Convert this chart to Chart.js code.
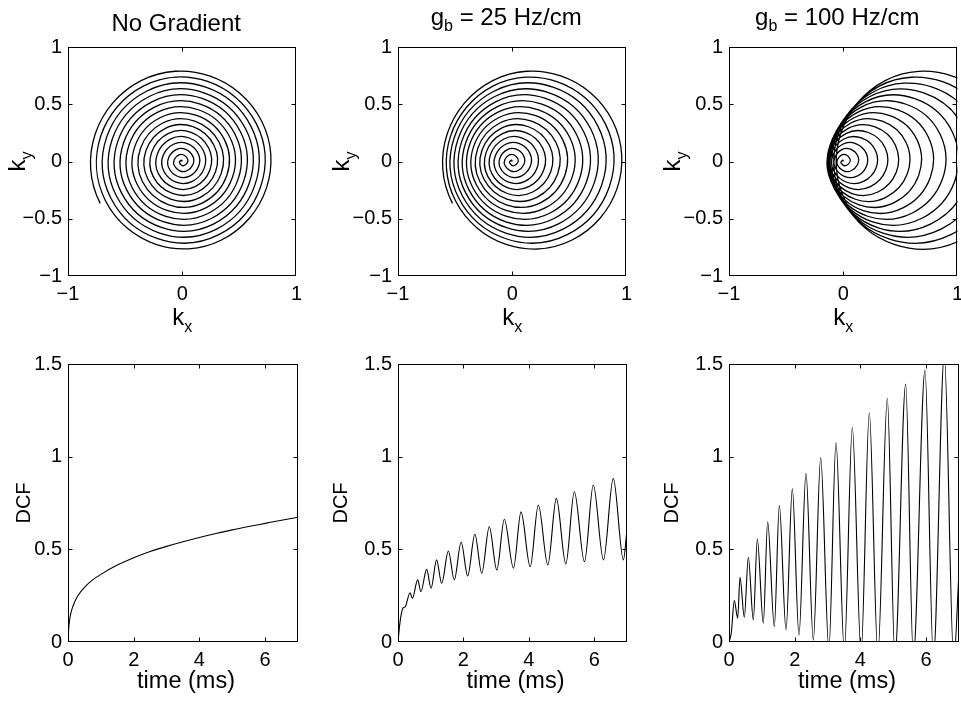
<!DOCTYPE html>
<html>
<head>
<meta charset="utf-8">
<script src="https://cdn.jsdelivr.net/npm/chart.js@4.4.0/dist/chart.umd.min.js"></script>
<style>
  html, body { margin: 0; padding: 0; background: #fff; overflow: hidden; }
  canvas { position: absolute; }
</style>
</head>
<body>
<canvas id="spiral0" width="308" height="345" style="left:0px;top:0px"></canvas>
<canvas id="spiral25" width="308" height="345" style="left:330px;top:0px"></canvas>
<canvas id="spiral100" width="308" height="345" style="left:661px;top:0px"></canvas>
<canvas id="dcf0" width="308" height="357" style="left:0px;top:345px"></canvas>
<canvas id="dcf25" width="308" height="357" style="left:330px;top:345px"></canvas>
<canvas id="dcf100" width="308" height="357" style="left:661px;top:345px"></canvas>
<script>
// spiral readout sampled every quarter turn (one row per turn); first sample sits at 27 deg,
// so sample 62 lands on the end of the readout at 207 deg. Sample 63 is a lead-out point:
// it only sets the slope of the last arc and its segment is not stroked.
const quarterStartDeg = 27;
const readoutEnd = 62;
const quarterRadius = [
  0.000, 0.013, 0.026, 0.039,
  0.052, 0.065, 0.078, 0.091,
  0.104, 0.117, 0.130, 0.143,
  0.156, 0.169, 0.182, 0.195,
  0.208, 0.221, 0.234, 0.247,
  0.260, 0.273, 0.286, 0.299,
  0.312, 0.325, 0.338, 0.351,
  0.364, 0.377, 0.390, 0.403,
  0.416, 0.429, 0.442, 0.455,
  0.468, 0.481, 0.494, 0.507,
  0.520, 0.533, 0.546, 0.559,
  0.572, 0.585, 0.598, 0.611,
  0.624, 0.637, 0.650, 0.663,
  0.676, 0.689, 0.702, 0.715,
  0.728, 0.741, 0.754, 0.767,
  0.780, 0.793, 0.806, 0.819
];

// kx drift of the trajectory under the background gradient
const shift25 = [
  0.000, 0.000, 0.001, 0.002,
  0.003, 0.004, 0.006, 0.007,
  0.009, 0.011, 0.013, 0.014,
  0.016, 0.019, 0.021, 0.023,
  0.025, 0.028, 0.030, 0.033,
  0.035, 0.038, 0.041, 0.044,
  0.047, 0.050, 0.053, 0.056,
  0.059, 0.062, 0.065, 0.068,
  0.072, 0.075, 0.079, 0.082,
  0.086, 0.089, 0.093, 0.097,
  0.100, 0.104, 0.108, 0.112,
  0.116, 0.120, 0.124, 0.128,
  0.132, 0.136, 0.140, 0.144,
  0.149, 0.153, 0.157, 0.162,
  0.166, 0.171, 0.175, 0.180,
  0.184, 0.189, 0.195, 0.199
];
const shift100 = [
  0.000, 0.002, 0.004, 0.008,
  0.012, 0.017, 0.022, 0.028,
  0.035, 0.041, 0.048, 0.056,
  0.063, 0.072, 0.080, 0.089,
  0.098, 0.107, 0.116, 0.126,
  0.136, 0.147, 0.157, 0.168,
  0.179, 0.191, 0.202, 0.214,
  0.226, 0.238, 0.251, 0.263,
  0.276, 0.289, 0.302, 0.316,
  0.329, 0.343, 0.357, 0.371,
  0.386, 0.400, 0.415, 0.430,
  0.445, 0.460, 0.476, 0.491,
  0.507, 0.523, 0.539, 0.555,
  0.572, 0.588, 0.605, 0.622,
  0.639, 0.656, 0.674, 0.691,
  0.709, 0.727, 0.748, 0.766
];

// density compensation vs time
const dcf0Time  = [0, 0.02, 0.05, 0.1, 0.2, 0.3, 0.5, 0.75, 1, 1.5, 2, 2.5, 3, 3.5, 4, 4.5, 5, 5.5, 6, 6.5, 7];
const dcf0Value = [0, 0.07, 0.12, 0.165, 0.215, 0.25, 0.295, 0.335, 0.365, 0.415, 0.455, 0.488, 0.516, 0.541, 0.564, 0.585, 0.605, 0.623, 0.640, 0.657, 0.673];

const dcf25Time  = [0, 0.05, 0.1, 0.163, 0.22, 0.367, 0.44, 0.601, 0.70, 0.876, 1.01, 1.18, 1.335, 1.54, 1.72, 1.93, 2.13, 2.35,
                    2.56, 2.79, 3.02, 3.25, 3.53, 3.76, 4.04, 4.29, 4.58, 4.84, 5.13, 5.39, 5.70, 5.97, 6.28, 6.58, 6.89, 7];
const dcf25Value = [0, 0.09, 0.15, 0.185, 0.19, 0.266, 0.236, 0.335, 0.272, 0.392, 0.29, 0.443, 0.317, 0.491, 0.335, 0.538, 0.356, 0.581,
                    0.371, 0.622, 0.389, 0.662, 0.398, 0.702, 0.406, 0.739, 0.416, 0.775, 0.421, 0.811, 0.433, 0.847, 0.443, 0.883, 0.443, 0.61];

const dcf100Time  = [0, 0.07, 0.162, 0.264, 0.335, 0.466, 0.588, 0.74, 0.862, 1.044, 1.177, 1.379, 1.532, 1.735, 1.927, 2.13, 2.343, 2.566,
                     2.79, 3.04, 3.256, 3.51, 3.753, 4.02, 4.27, 4.53, 4.818, 5.05, 5.377, 5.61, 5.965, 6.22, 6.553, 6.84, 7];
const dcf100Value = [0, 0.05, 0.223, 0.128, 0.349, 0.133, 0.457, 0.119, 0.556, 0.101, 0.649, 0.083, 0.738, 0.065, 0.826, 0.038, 0.91, 0.01,
                     0.995, -0.04, 1.076, -0.05, 1.157, -0.06, 1.237, -0.07, 1.315, -0.08, 1.392, -0.08, 1.468, -0.09, 1.55, -0.1, 0.38];

const kTicks = [-1, 0, 1];
const kyTicks = [-1, -0.5, 0, 0.5, 1];
const timeTicks = [0, 2, 4, 6];
const dcfTicks = [0, 0.5, 1, 1.5];

const FONT = '"Liberation Sans", Arial, Helvetica, sans-serif';
Chart.defaults.font.family = FONT;
Chart.defaults.font.size = 20;
Chart.defaults.color = '#000';

function spiralPoints(shift) {
  return quarterRadius.map((r, k) => {
    const a = (quarterStartDeg + 90 * k) * Math.PI / 180;
    return { x: (shift ? shift[k] : 0) + r * Math.cos(a), y: r * Math.sin(a) };
  });
}

function seriesPoints(xs, ys) {
  return xs.map((x, i) => ({ x: x, y: ys[i] }));
}

function tickText(v) {
  return v < 0 ? '\u2212' + (-v) : String(v);
}

// text with an optional subscript, centred on (x, y)
function drawRich(ctx, parts, x, y, rotate) {
  ctx.save();
  ctx.translate(x, y);
  if (rotate) ctx.rotate(-Math.PI / 2);
  ctx.fillStyle = '#000';
  ctx.textAlign = 'left';
  ctx.textBaseline = 'alphabetic';
  let w = 0;
  parts.forEach(p => { ctx.font = p[1] + 'px ' + FONT; w += ctx.measureText(p[0]).width; });
  let cx = -w / 2;
  parts.forEach(p => {
    ctx.font = p[1] + 'px ' + FONT;
    ctx.fillText(p[0], cx, p[2] || 0);
    cx += ctx.measureText(p[0]).width;
  });
  ctx.restore();
}

// box, inward tick marks and axis texts
const axesPlugin = {
  id: 'axesText',
  afterDraw(chart, args, opts) {
    const { ctx, chartArea: a, scales } = chart;
    const L = Math.round(a.left) + 0.5, R = Math.round(a.right) - 0.5;
    const T = Math.round(a.top) + 0.5, B = Math.round(a.bottom) - 0.5;
    ctx.save();
    ctx.strokeStyle = '#000';
    ctx.lineWidth = 1;
    ctx.strokeRect(L, T, R - L, B - T);
    ctx.beginPath();
    scales.x.ticks.forEach(t => {
      const px = Math.round(scales.x.getPixelForValue(t.value)) + 0.5;
      if (px <= L + 1 || px >= R - 1) return;
      ctx.moveTo(px, B); ctx.lineTo(px, B - 4);
      ctx.moveTo(px, T); ctx.lineTo(px, T + 4);
    });
    scales.y.ticks.forEach(t => {
      const py = Math.round(scales.y.getPixelForValue(t.value)) + 0.5;
      if (py <= T + 1 || py >= B - 1) return;
      ctx.moveTo(L, py); ctx.lineTo(L + 4, py);
      ctx.moveTo(R, py); ctx.lineTo(R - 4, py);
    });
    ctx.stroke();
    ctx.restore();

    const cx = (a.left + a.right) / 2, cy = (a.top + a.bottom) / 2;
    if (opts.title) drawRich(ctx, opts.title, cx - 6, a.top - opts.titleGap);
    drawRich(ctx, opts.xLabel, cx + opts.xDx, a.bottom + opts.xGap);
    drawRich(ctx, opts.yLabel, a.left - opts.yGap, cy, true);
  }
};

function makeChart(id, cfg) {
  const hideFrom = cfg.hideFrom;
  new Chart(document.getElementById(id), {
    type: 'scatter',
    data: {
      datasets: [{
        data: cfg.points,
        showLine: true,
        borderColor: '#000',
        borderWidth: cfg.lineWidth,
        pointRadius: 0,
        tension: cfg.tension || 0,
        cubicInterpolationMode: cfg.mode || 'default',
        capBezierPoints: false,
        segment: {
          borderColor: c => (hideFrom !== undefined && c.p0DataIndex >= hideFrom) ? 'rgba(0,0,0,0)' : '#000'
        }
      }]
    },
    options: {
      responsive: false,
      animation: false,
      events: [],
      layout: { padding: { top: cfg.padTop, right: cfg.padRight, left: 0, bottom: 0 } },
      plugins: {
        legend: { display: false },
        tooltip: { enabled: false },
        axesText: cfg.text
      },
      scales: {
        x: {
          type: 'linear', min: cfg.xRange[0], max: cfg.xRange[1],
          grid: { display: false, drawTicks: false }, border: { display: false },
          ticks: { padding: 6, maxRotation: 0, autoSkip: false, callback: tickText },
          afterBuildTicks: s => { s.ticks = cfg.xTicks.map(v => ({ value: v })); },
          afterFit: s => { s.height = cfg.xHeight; }
        },
        y: {
          type: 'linear', min: cfg.yRange[0], max: cfg.yRange[1],
          grid: { display: false, drawTicks: false }, border: { display: false },
          ticks: { padding: 6, autoSkip: false, callback: tickText },
          afterBuildTicks: s => { s.ticks = cfg.yTicks.map(v => ({ value: v })); },
          afterFit: s => { s.width = 68; }
        }
      }
    },
    plugins: [axesPlugin]
  });
}

const kx = [['k', 24], ['x', 16, 7]];
const ky = [['k', 24], ['y', 16, 7]];
const timeLabel = [['time (ms)', 23.5]];
const dcfLabel = [['DCF', 20]];

const spiralPlots = [
  { id: 'spiral0', shift: null, title: [['No Gradient', 24]], titleGap: 16, yGap: 43, padRight: 10 },
  { id: 'spiral25', shift: shift25, title: [['g', 24], ['b', 16, 6], [' = 25 Hz/cm', 24]], titleGap: 22, yGap: 49, padRight: 11 },
  { id: 'spiral100', shift: shift100, title: [['g', 24], ['b', 16, 6], [' = 100 Hz/cm', 24]], titleGap: 22, yGap: 49, padRight: 10 }
];
spiralPlots.forEach(p => makeChart(p.id, {
  points: spiralPoints(p.shift),
  tension: 0.55,
  lineWidth: 1.3,
  hideFrom: readoutEnd,
  padTop: 47, padRight: p.padRight, xHeight: 69,
  xRange: [-1, 1], yRange: [-1, 1], xTicks: kTicks, yTicks: kyTicks,
  text: { title: p.title, titleGap: p.titleGap, xLabel: kx, xGap: 49, xDx: 0, yLabel: ky, yGap: p.yGap }
}));

const dcfPlots = [
  { id: 'dcf0', t: dcf0Time, v: dcf0Value, yGap: 38, padRight: 10 },
  { id: 'dcf25', t: dcf25Time, v: dcf25Value, yGap: 51, padRight: 11 },
  { id: 'dcf100', t: dcf100Time, v: dcf100Value, yGap: 51, padRight: 10 }
];
dcfPlots.forEach(p => makeChart(p.id, {
  points: seriesPoints(p.t, p.v),
  mode: 'monotone',
  lineWidth: 1.1,
  padTop: 19, padRight: p.padRight, xHeight: 60,
  xRange: [0, 7], yRange: [0, 1.5], xTicks: timeTicks, yTicks: dcfTicks,
  text: { xLabel: timeLabel, xGap: 46, xDx: 3, yLabel: dcfLabel, yGap: p.yGap }
}));
</script>
</body>
</html>
